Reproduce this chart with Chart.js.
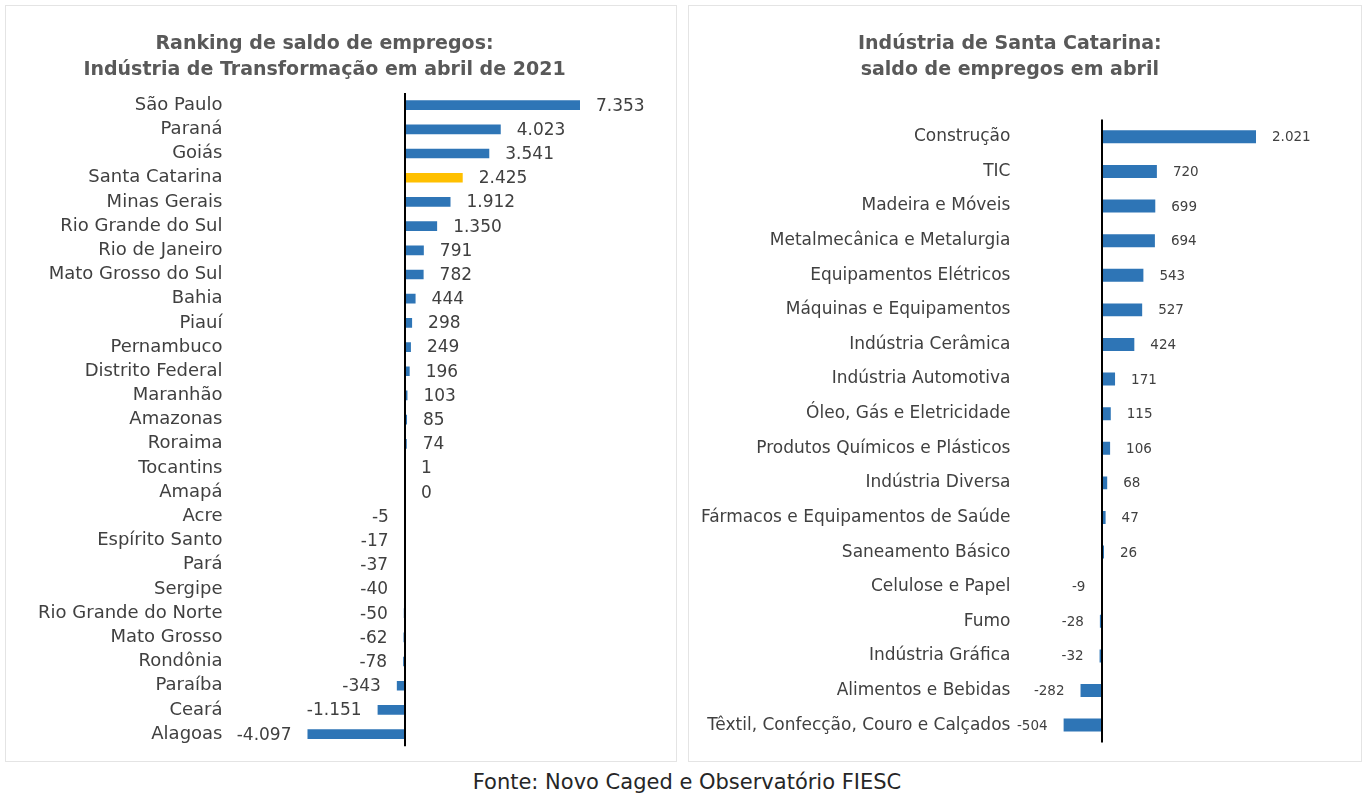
<!DOCTYPE html>
<html>
<head>
<meta charset="utf-8">
<script src="https://cdn.jsdelivr.net/npm/chart.js@4.4.0/dist/chart.umd.min.js"></script>
<style>
  body { margin: 0; background: #fff; width: 1368px; height: 796px; position: relative; font-family: "DejaVu Sans", sans-serif; }
  .panel { position: absolute; top: 5px; height: 757px; border: 1px solid #e4e4e4; box-sizing: border-box; background: #fff; }
  .panel canvas { display: block; }
  #p1 { left: 5px; width: 672px; }
  #p2 { left: 688px; width: 674px; }
  #fonte { position: absolute; top: 770px; left: 0; width: 1374px; text-align: center; font-size: 21px; color: #262626; }
</style>
</head>
<body>
<div class="panel" id="p1"><canvas id="c1" width="670" height="755"></canvas></div>
<div class="panel" id="p2"><canvas id="c2" width="672" height="755"></canvas></div>
<div id="fonte">Fonte: Novo Caged e Observatório FIESC</div>
<script>
// Left: ranking by state
const estados = ['São Paulo', 'Paraná', 'Goiás', 'Santa Catarina', 'Minas Gerais', 'Rio Grande do Sul',
  'Rio de Janeiro', 'Mato Grosso do Sul', 'Bahia', 'Piauí', 'Pernambuco', 'Distrito Federal', 'Maranhão',
  'Amazonas', 'Roraima', 'Tocantins', 'Amapá', 'Acre', 'Espírito Santo', 'Pará', 'Sergipe',
  'Rio Grande do Norte', 'Mato Grosso', 'Rondônia', 'Paraíba', 'Ceará', 'Alagoas'];
const saldoEstados = [7353, 4023, 3541, 2425, 1912, 1350, 791, 782, 444, 298, 249, 196, 103,
  85, 74, 1, 0, -5, -17, -37, -40, -50, -62, -78, -343, -1151, -4097];

// Right: SC industry sectors
const setores = ['Construção', 'TIC', 'Madeira e Móveis', 'Metalmecânica e Metalurgia', 'Equipamentos Elétricos',
  'Máquinas e Equipamentos', 'Indústria Cerâmica', 'Indústria Automotiva', 'Óleo, Gás e Eletricidade',
  'Produtos Químicos e Plásticos', 'Indústria Diversa', 'Fármacos e Equipamentos de Saúde', 'Saneamento Básico',
  'Celulose e Papel', 'Fumo', 'Indústria Gráfica', 'Alimentos e Bebidas', 'Têxtil, Confecção, Couro e Calçados'];
const saldoSetores = [2021, 720, 699, 694, 543, 527, 424, 171, 115, 106, 68, 47, 26, -9, -28, -32, -282, -504];

const BLUE = '#2E75B6';
const GOLD = '#FFC000';
const TXT = '#404040';

function fmt(v) {
  const s = String(Math.abs(v)).replace(/\B(?=(\d{3})+(?!\d))/g, '.');
  return (v < 0 ? '-' : '') + s;
}

// zero axis line + value labels at bar ends
const barLabels = {
  id: 'barLabels',
  afterDatasetsDraw(chart, args, opts) {
    const ctx = chart.ctx;
    const x = chart.scales.x;
    const area = chart.chartArea;
    const x0 = Math.round(x.getPixelForValue(0));
    ctx.save();
    ctx.strokeStyle = '#000';
    ctx.lineWidth = 2;
    ctx.beginPath();
    ctx.moveTo(x0, area.top);
    ctx.lineTo(x0, area.bottom);
    ctx.stroke();
    ctx.font = opts.size + 'px "DejaVu Sans", sans-serif';
    ctx.fillStyle = TXT;
    ctx.textBaseline = 'middle';
    const meta = chart.getDatasetMeta(0);
    const data = chart.data.datasets[0].data;
    meta.data.forEach((bar, i) => {
      const v = data[i];
      if (v < 0) {
        ctx.textAlign = 'right';
        ctx.fillText(fmt(v), bar.x - opts.offset, bar.y + 1);
      } else {
        ctx.textAlign = 'left';
        ctx.fillText(fmt(v), bar.x + opts.offset, bar.y + 1);
      }
    });
    ctx.restore();
  }
};

function makeChart(id, labels, values, colors, cfg) {
  return new Chart(document.getElementById(id), {
    type: 'bar',
    data: {
      labels: labels,
      datasets: [{
        data: values,
        backgroundColor: colors,
        categoryPercentage: 1,
        barPercentage: cfg.barPct
      }]
    },
    options: {
      indexAxis: 'y',
      responsive: false,
      animation: false,
      layout: { padding: { left: 0, right: cfg.padRight, top: 0, bottom: cfg.padBottom } },
      scales: {
        x: { display: false, min: cfg.min, max: cfg.max },
        y: {
          grid: { display: false, drawTicks: false },
          border: { display: false },
          ticks: {
            color: TXT, padding: 4, autoSkip: false,
            font: { family: '"DejaVu Sans", sans-serif', size: cfg.labelSize }
          },
          afterFit(scale) { scale.width = cfg.axisWidth; }
        }
      },
      plugins: {
        legend: { display: false },
        tooltip: { enabled: false },
        title: {
          display: true,
          text: cfg.title,
          color: '#595959',
          font: { family: '"DejaVu Sans", sans-serif', size: 19, weight: 'bold', lineHeight: 1.37 },
          padding: { top: cfg.titleTop, bottom: cfg.titleBottom }
        },
        barLabels: { size: cfg.valueSize, offset: 16 }
      }
    },
    plugins: [barLabels]
  });
}

makeChart('c1', estados, saldoEstados,
  estados.map(e => e === 'Santa Catarina' ? GOLD : BLUE), {
    title: ['Ranking de saldo de empregos:', 'Indústria de Transformação em abril de 2021'],
    titleTop: 25.5, titleBottom: 9.5,
    padRight: 33, padBottom: 14,
    min: -7500, max: 10000,
    axisWidth: 220.5,
    labelSize: 18, valueSize: 17,
    barPct: 0.4
  });

makeChart('c2', setores, saldoSetores, BLUE, {
  title: ['Indústria de Santa Catarina:', 'saldo de empregos em abril'],
  titleTop: 25.5, titleBottom: 36,
  padRight: 30.4, padBottom: 18.6,
  min: -1150, max: 3000,
  axisWidth: 325.4,
  labelSize: 17, valueSize: 13.5,
  barPct: 0.375
});
</script>
</body>
</html>
